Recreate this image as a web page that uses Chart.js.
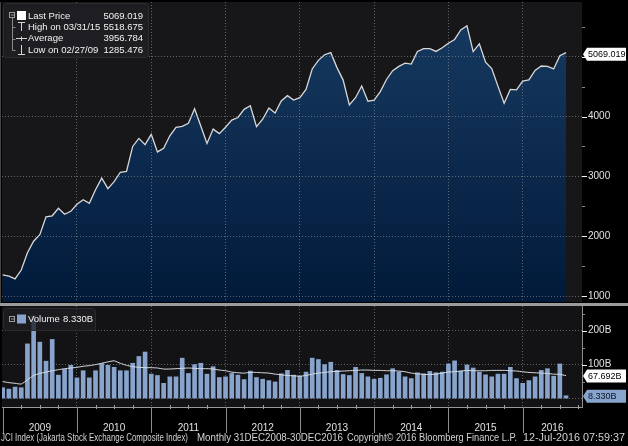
<!DOCTYPE html>
<html lang="en">
<head>
<meta charset="UTF-8">
<title>JCI Index</title>
<style>
  html, body { margin: 0; padding: 0; background: #000; }
  #wrap { position: relative; width: 628px; height: 446px; overflow: hidden; background: #000; }
  #priceChart { position: absolute; left: 0; top: 0; }
  #volumeChart { position: absolute; left: 0; top: 304px; }
  #sep { position: absolute; left: 0; top: 303px; width: 628px; height: 3px; background: #9b9b9b; }
  .foot { position: absolute; top: 431px; font: 10.5px "Liberation Sans", Arial, sans-serif;
          color: #d2d2d2; white-space: pre; transform-origin: 0 0; }
</style>
</head>
<body>
<div id="wrap">
  <canvas id="priceChart" width="628" height="304"></canvas>
  <canvas id="volumeChart" width="628" height="142"></canvas>
  <div id="sep"></div>
</div>
<script src="https://cdn.jsdelivr.net/npm/chart.js"></script>
<script>
// monthly closes, Dec 2008 .. Jul 2016
const years = ['2009', '2010', '2011', '2012', '2013', '2014', '2015', '2016'];
const prices = [
  1355.4, 1332.7, 1285.5, 1434.1, 1722.8, 1916.8, 2026.8, 2323.2, 2341.5, 2467.6, 2367.7, 2415.8, 2534.4,
  2610.8, 2549.0, 2777.3, 2971.3, 2796.0, 2913.7, 3069.3, 3081.9, 3501.3, 3635.3, 3531.2, 3703.5,
  3409.2, 3470.3, 3678.7, 3819.6, 3837.0, 3888.6, 4130.8, 3841.7, 3549.0, 3790.8, 3715.1, 3822.0,
  3941.7, 3985.2, 4121.6, 4180.7, 3832.8, 3955.6, 4142.3, 4060.3, 4262.6, 4350.3, 4276.1, 4316.7,
  4453.7, 4795.8, 4941.0, 5034.1, 5068.6, 4818.9, 4610.4, 4195.1, 4316.2, 4510.6, 4256.4, 4274.2,
  4418.8, 4620.2, 4768.3, 4840.1, 4893.9, 4878.6, 5088.8, 5136.9, 5137.6, 5089.6, 5149.9, 5227.0,
  5289.4, 5450.3, 5518.7, 5086.4, 5216.4, 4910.7, 4802.5, 4509.6, 4223.9, 4455.2, 4446.5, 4593.0,
  4615.2, 4771.0, 4845.4, 4838.6, 4796.9, 5016.6, 5069.0
];
// volume in billions
const volumes = [
  32, 28, 34, 32, 161, 243, 166, 110, 174, 69, 86, 98, 61,
  82, 61, 82, 103, 98, 92, 82, 82, 104, 124, 137, 72,
  68, 45, 64, 64, 119, 74, 100, 104, 72, 94, 62, 64,
  74, 69, 56, 81, 62, 57, 53, 49, 73, 83, 69, 66,
  78, 119, 115, 100, 107, 83, 71, 68, 92, 74, 64, 57,
  60, 70, 88, 78, 64, 59, 76, 73, 80, 76, 78, 102,
  111, 81, 99, 90, 78, 70, 64, 72, 72, 92, 59, 45,
  53, 64, 83, 88, 66, 102, 8.33
];
const volumeAvg = [
  50, 47, 45, 43, 55, 68, 74, 78, 82, 85, 88, 90, 92,
  95, 97, 100, 104, 108, 111, 104, 98, 94, 92, 91, 91,
  90, 87, 87, 88, 89, 90, 89, 88, 88, 87, 84, 82,
  78, 76, 75, 77, 77, 76, 75, 72, 70, 68, 67, 66,
  68, 72, 75, 77, 79, 80, 81, 82, 83, 84, 84, 83,
  83, 82, 82, 81, 79, 75, 73, 71, 71, 72, 75, 78,
  79, 81, 83, 82, 82, 82, 83, 83, 83, 82, 81, 79,
  77, 76, 75, 74, 72, 71, 67.692
];
const priceTicks = [1000, 2000, 3000, 4000, 5000];
const volumeTicks = [100, 200];
const lastPrice = 5069.019, highPrice = 5518.675, avgPrice = 3956.784, lowPrice = 1285.476;
const highDate = '03/31/15', lowDate = '02/27/09';
const lastVolume = 8.330, lastVolumeAvg = 67.692;
const footerParts = [
  ['JCI Index (Jakarta Stock Exchange Composite Index)', 1, 187],
  ['Monthly 31DEC2008-30DEC2016', 197, 146],
  ['Copyright\u00a9 2016 Bloomberg Finance L.P.', 347, 170],
  ['12-Jul-2016 07:59:37', 523, 102]
];

const FONT = '"Liberation Sans", Arial, sans-serif';
const GRID = 'rgba(150,150,150,0.6)';
const LABEL = '#e2e2e2';
const xMin = -0.11, xMax = 93.58;
const yearStarts = years.map((y, k) => 12 * k);

Chart.defaults.font.family = FONT;

function plotBg(color) {
  return {
    id: 'plotBg',
    beforeDraw(chart) {
      const { ctx, chartArea: a } = chart;
      ctx.save();
      ctx.fillStyle = color;
      ctx.fillRect(a.left, a.top, a.right - a.left, a.bottom - a.top);
      ctx.restore();
    }
  };
}

function hline(ctx, x1, x2, y, color) {
  ctx.strokeStyle = color;
  ctx.beginPath(); ctx.moveTo(x1, y); ctx.lineTo(x2, y); ctx.stroke();
}
function vline(ctx, x, y1, y2, color) {
  ctx.strokeStyle = color;
  ctx.beginPath(); ctx.moveTo(x, y1); ctx.lineTo(x, y2); ctx.stroke();
}

function drawTag(ctx, x, y, text, fill, color) {
  const h = 13, right = 626;
  ctx.fillStyle = fill;
  ctx.beginPath();
  ctx.moveTo(x, y);
  ctx.lineTo(x + 4, y - h / 2);
  ctx.lineTo(right, y - h / 2);
  ctx.lineTo(right, y + h / 2);
  ctx.lineTo(x + 4, y + h / 2);
  ctx.closePath();
  ctx.fill();
  ctx.fillStyle = color;
  ctx.font = '9px ' + FONT;
  ctx.textAlign = 'left';
  ctx.textBaseline = 'middle';
  ctx.fillText(text, x + 5, y + 0.5);
}

function legendBox(ctx, x, y, w, h, alpha) {
  ctx.fillStyle = 'rgba(30,30,34,' + alpha + ')';
  ctx.beginPath();
  ctx.roundRect(x, y, w, h, 3);
  ctx.fill();
  ctx.strokeStyle = '#2b2b30';
  ctx.lineWidth = 1;
  ctx.stroke();
}

function collapseIcon(ctx, x, y) {
  ctx.strokeStyle = '#9a9a9a';
  ctx.strokeRect(x + 0.5, y + 0.5, 5, 5);
  hline(ctx, x + 2, x + 5, y + 3, '#9a9a9a');
}

// chart.js pads vertical axes by half a label; the panels here run edge to edge
function noPad(s) {
  s.paddingTop = 0; s.paddingBottom = 0; s.paddingLeft = 0; s.paddingRight = 0;
}

const priceDecor = {
  id: 'priceDecor',
  afterDraw(chart) {
    const { ctx, chartArea: a, scales: { y } } = chart;
    ctx.save();
    ctx.lineWidth = 1;
    // axis tick marks, major with label, minor half way
    priceTicks.forEach(v => {
      const py = Math.round(y.getPixelForValue(v)) + 0.5;
      hline(ctx, a.right, a.right + 5, py, '#f2f2f2');
      const pm = Math.round(y.getPixelForValue(v + 500)) + 0.5;
      if (pm > a.top) hline(ctx, a.right, a.right + 3, pm, '#8a8a8a');
    });
    const p0 = Math.round(y.getPixelForValue(priceTicks[0] - 500)) + 0.5;
    if (p0 < a.bottom) hline(ctx, a.right, a.right + 3, p0, '#8a8a8a');

    // legend
    legendBox(ctx, 3.5, 3.5, 145, 54, 0.96);
    collapseIcon(ctx, 9, 12);
    ctx.fillStyle = '#ffffff';
    ctx.fillRect(17, 11, 9, 9);
    const rows = [16, 27, 38.5, 50];
    vline(ctx, 12.5, 18, 50.5, '#8a8a8a');
    [27, 38.5, 50].forEach(r => hline(ctx, 12.5, 15.5, Math.round(r) + 0.5, '#8a8a8a'));
    const g = '#d4d4d4';
    vline(ctx, 21.5, 22, 31, g); hline(ctx, 18, 25, 22.5, g);
    hline(ctx, 16, 27, 38.5, g); vline(ctx, 21.5, 36.5, 41, g);
    vline(ctx, 21.5, 45, 54, g); hline(ctx, 18, 25, 54.5, g);
    const labels = ['Last Price', 'High on ' + highDate, 'Average', 'Low on ' + lowDate];
    const values = [lastPrice, highPrice, avgPrice, lowPrice];
    ctx.font = '9.5px ' + FONT;
    ctx.textBaseline = 'middle';
    ctx.fillStyle = '#f2f2f2';
    rows.forEach((r, k) => {
      ctx.textAlign = 'left';
      ctx.fillText(labels[k], 28, r);
      ctx.textAlign = 'right';
      ctx.fillText(values[k].toFixed(3), 143, r);
    });

    // last price tag
    drawTag(ctx, a.right + 1, y.getPixelForValue(lastPrice) + 1.5, lastPrice.toFixed(3), '#ffffff', '#000000');
    ctx.restore();
  }
};

const volumeDecor = {
  id: 'volumeDecor',
  afterDraw(chart) {
    const { ctx, chartArea: a, scales: { x, y } } = chart;
    ctx.save();
    ctx.lineWidth = 1;
    volumeTicks.forEach(v => {
      const py = Math.round(y.getPixelForValue(v)) + 0.5;
      hline(ctx, a.right, a.right + 5, py, '#f2f2f2');
    });
    [50, 150, 250].forEach(v => {
      const py = Math.round(y.getPixelForValue(v)) + 0.5;
      hline(ctx, a.right, a.right + 3, py, '#8a8a8a');
    });
    // x axis marks: quarters small, years long
    for (let i = 0; i <= x.max; i += 3) {
      const px = Math.round(x.getPixelForValue(i)) + 0.5;
      if (i % 12 === 0) vline(ctx, px, a.bottom, a.bottom + 26, '#8c8c8c');
      else vline(ctx, px, a.bottom - 2, a.bottom + 2, '#a0a0a0');
    }

    // legend
    legendBox(ctx, 3.5, 4.5, 92, 22, 0.78);
    collapseIcon(ctx, 9, 12);
    ctx.fillStyle = '#88a4cc';
    ctx.fillRect(17, 10.5, 9, 9);
    ctx.font = '9.5px ' + FONT;
    ctx.textBaseline = 'middle';
    ctx.textAlign = 'left';
    ctx.fillStyle = '#f2f2f2';
    ctx.fillText('Volume', 28, 15.5);
    ctx.fillText(lastVolume.toFixed(3) + 'B', 63, 15.5);

    drawTag(ctx, a.right + 1, y.getPixelForValue(lastVolumeAvg) + 0.5, lastVolumeAvg.toFixed(3) + 'B', '#ffffff', '#000000');
    drawTag(ctx, a.right + 1, y.getPixelForValue(lastVolume) + 0.5, lastVolume.toFixed(3) + 'B', '#88a4cc', '#0a1426');
    ctx.restore();
  }
};

new Chart(document.getElementById('priceChart'), {
  type: 'line',
  data: {
    datasets: [{
      data: prices.map((v, i) => ({ x: i, y: v })),
      borderColor: '#d8d8d8',
      borderWidth: 1.3,
      pointRadius: 0,
      tension: 0,
      fill: 'start',
      backgroundColor: c => {
        const a = c.chart.chartArea;
        if (!a) return '#0b2a50';
        const grad = c.chart.ctx.createLinearGradient(0, a.top, 0, a.bottom);
        grad.addColorStop(0, '#183b62');
        grad.addColorStop(1, '#011a3a');
        return grad;
      }
    }]
  },
  options: {
    responsive: false,
    animation: false,
    events: [],
    layout: { padding: { left: 2, top: 2, right: 0, bottom: 2 } },
    plugins: { legend: { display: false }, tooltip: { enabled: false } },
    scales: {
      x: {
        type: 'linear', min: xMin, max: xMax,
        afterBuildTicks: s => { s.ticks = yearStarts.slice(1).map(v => ({ value: v })); },
        afterFit: s => { s.height = 0; noPad(s); },
        ticks: { display: false },
        grid: { color: GRID, drawTicks: false, z: 1 },
        border: { display: false, dash: [1, 2] }
      },
      y: {
        position: 'right', min: 900, max: 5916,
        afterBuildTicks: s => { s.ticks = priceTicks.map(v => ({ value: v })); },
        afterFit: s => { s.width = 46; noPad(s); },
        ticks: { color: LABEL, font: { size: 10 }, padding: 6, callback: v => String(v) },
        grid: { color: GRID, drawTicks: false, z: 1 },
        border: { display: true, color: '#8c8c8c', width: 1, dash: [1, 2] }
      }
    }
  },
  plugins: [plotBg('#17171a'), priceDecor]
});

new Chart(document.getElementById('volumeChart'), {
  type: 'bar',
  data: {
    datasets: [{
      type: 'line',
      data: volumeAvg.map((v, i) => ({ x: i, y: v })),
      borderColor: '#d9dde3',
      borderWidth: 1,
      pointRadius: 0,
      tension: 0.2,
      order: 0
    }, {
      type: 'bar',
      data: volumes.map((v, i) => ({ x: i, y: v })),
      backgroundColor: '#88a4cc',
      barThickness: 4,
      order: 1
    }]
  },
  options: {
    responsive: false,
    animation: false,
    events: [],
    layout: { padding: { left: 2, top: 2, right: 0, bottom: 0 } },
    plugins: { legend: { display: false }, tooltip: { enabled: false } },
    scales: {
      x: {
        type: 'linear', min: xMin, max: xMax, offset: false,
        afterBuildTicks: s => {
          const t = yearStarts.slice(1).map(v => ({ value: v }));
          years.forEach((y, k) => t.push({ value: k < years.length - 1 ? 12 * k + 6 : (12 * k + s.max) / 2 }));
          s.ticks = t;
        },
        afterFit: s => { s.height = 39; noPad(s); },
        ticks: {
          color: LABEL, font: { size: 10 }, padding: 15, autoSkip: false, maxRotation: 0,
          callback: v => (v % 12 === 0 ? '' : years[Math.floor(v / 12)])
        },
        grid: {
          offset: false, drawTicks: false,
          color: c => (c.tick && c.tick.value % 12 === 0 ? GRID : 'transparent')
        },
        border: { display: true, color: '#9a9a9a', width: 1, dash: [1, 2] }
      },
      y: {
        position: 'right', min: -24.7, max: 272.4,
        afterBuildTicks: s => { s.ticks = [0].concat(volumeTicks).map(v => ({ value: v })); },
        afterFit: s => { s.width = 46; noPad(s); },
        ticks: { color: LABEL, font: { size: 10 }, padding: 6, callback: v => (v === 0 ? '' : v + 'B') },
        grid: { color: GRID, drawTicks: false },
        border: { display: true, color: '#8c8c8c', width: 1, dash: [1, 2] }
      }
    }
  },
  plugins: [plotBg('#131316'), volumeDecor]
});

// footer line, each piece squeezed into the width it takes in the original
const wrap = document.getElementById('wrap');
footerParts.forEach(([text, left, width]) => {
  const span = document.createElement('div');
  span.className = 'foot';
  span.style.left = left + 'px';
  span.textContent = text;
  wrap.appendChild(span);
  const w = span.getBoundingClientRect().width;
  span.style.transform = 'scaleX(' + (width / w) + ')';
});
</script>
</body>
</html>
